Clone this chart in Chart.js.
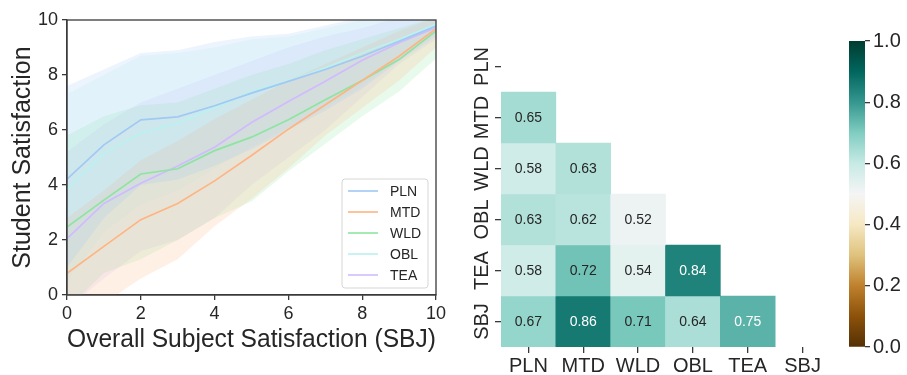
<!DOCTYPE html>
<html>
<head>
<meta charset="utf-8">
<script src="https://cdn.jsdelivr.net/npm/chart.js@4.4.0/dist/chart.umd.min.js"></script>
<style>
body { margin: 0; background: #fff; width: 907px; height: 375px; position: relative; overflow: hidden; }
canvas { position: absolute; top: 0; }
#lines { left: 0; }
#heat { left: 455px; }
#cbar { left: 830px; }
</style>
</head>
<body>
<canvas id="lines" width="455" height="375"></canvas>
<canvas id="heat" width="385" height="375"></canvas>
<canvas id="cbar" width="77" height="375"></canvas>
<script>
// ---- line panel data ----
var xs = [0, 1, 2, 3, 4, 5, 6, 7, 8, 9, 10];
var names = ['PLN', 'MTD', 'WLD', 'OBL', 'TEA'];
var colors = ['#a1c9f4', '#ffb482', '#8de5a1', '#b9f2f0', '#d0bbff'];

var PLN = [4.21, 5.46, 6.37, 6.48, 6.88, 7.34, 7.77, 8.2, 8.68, 9.23, 9.78];
var MTD = [0.79, 1.77, 2.74, 3.33, 4.15, 5.07, 6.03, 6.92, 7.8, 8.68, 9.68];
var WLD = [2.47, 3.45, 4.4, 4.59, 5.25, 5.74, 6.37, 7.1, 7.8, 8.56, 9.6];
var OBL = [3.85, 5.15, 5.88, 6.25, 6.8, 7.4, 7.77, 8.26, 8.8, 9.3, 9.84];
var TEA = [2.05, 3.33, 4.06, 4.69, 5.37, 6.27, 7.04, 7.77, 8.54, 9.17, 9.72];

// confidence bands (upper / lower)
var PLN_hi = [7.6, 8.2, 8.8, 8.9, 9.2, 9.4, 9.5, 9.8, 10.1, 10.2, 10.2];
var PLN_lo = [1.0, 2.8, 4.0, 4.2, 4.7, 5.3, 6.0, 6.7, 7.5, 8.5, 9.4];
var MTD_hi = [2.8, 3.8, 4.9, 5.6, 6.4, 7.1, 7.8, 8.4, 9.0, 9.6, 10.1];
var MTD_lo = [-1.0, -0.3, 0.6, 1.3, 2.5, 3.5, 4.6, 5.8, 6.8, 7.8, 9.0];
var WLD_hi = [5.8, 6.5, 6.9, 7.0, 7.5, 8.0, 8.4, 8.9, 9.3, 9.7, 10.1];
var WLD_lo = [-0.5, 0.8, 1.3, 2.0, 2.8, 3.4, 4.5, 5.5, 6.5, 7.4, 8.6];
var OBL_hi = [7.3, 8.0, 8.7, 8.8, 9.0, 9.3, 9.4, 9.7, 10.0, 10.2, 10.2];
var OBL_lo = [0.5, 2.3, 3.3, 3.8, 4.6, 5.4, 6.1, 6.8, 7.6, 8.6, 9.5];
var TEA_hi = [5.2, 6.2, 7.0, 7.5, 8.0, 8.5, 9.0, 9.4, 9.7, 10.1, 10.2];
var TEA_lo = [-0.5, 0.6, 1.6, 2.0, 2.8, 4.0, 5.0, 6.0, 7.2, 8.4, 9.3];

var x_ticks = [0, 2, 4, 6, 8, 10];

// ---- heatmap data ----
var hm_labels = ['PLN', 'MTD', 'WLD', 'OBL', 'TEA', 'SBJ'];
var corr_MTD = [0.65];
var corr_WLD = [0.58, 0.63];
var corr_OBL = [0.63, 0.62, 0.52];
var corr_TEA = [0.58, 0.72, 0.54, 0.84];
var corr_SBJ = [0.67, 0.86, 0.71, 0.64, 0.75];
var cbar_ticks = [0, 0.2, 0.4, 0.6, 0.8, 1.0];

var corr = [[], corr_MTD, corr_WLD, corr_OBL, corr_TEA, corr_SBJ];
var series = [PLN, MTD, WLD, OBL, TEA];
var highs = [PLN_hi, MTD_hi, WLD_hi, OBL_hi, TEA_hi];
var lows = [PLN_lo, MTD_lo, WLD_lo, OBL_lo, TEA_lo];

var TXT = '#262626';
var AX = '#3a3a3a';
var FONT = "'Liberation Sans', Arial, sans-serif";

// BrBG colormap
var brbg = ['#543005', '#8c510a', '#bf812d', '#dfc27d', '#f6e8c3', '#f5f5f5',
            '#c7eae5', '#80cdc1', '#35978f', '#01665e', '#003c30'];

function hexrgb(h) {
    return [parseInt(h.substr(1, 2), 16), parseInt(h.substr(3, 2), 16), parseInt(h.substr(5, 2), 16)];
}
function cmap(v) {
    var p = Math.max(0, Math.min(1, v)) * 10;
    var i = Math.min(9, Math.floor(p)), t = p - i;
    var a = hexrgb(brbg[i]), b = hexrgb(brbg[i + 1]);
    return [0, 1, 2].map(function (k) { return Math.round(a[k] + (b[k] - a[k]) * t); });
}
function rgbStr(c, al) {
    return al === undefined ? 'rgb(' + c.join(',') + ')' : 'rgba(' + c.join(',') + ',' + al + ')';
}
function lum(c) {
    var l = c.map(function (v) {
        v = v / 255;
        return v <= 0.03928 ? v / 12.92 : Math.pow((v + 0.055) / 1.055, 2.4);
    });
    return 0.2126 * l[0] + 0.7152 * l[1] + 0.0722 * l[2];
}

// ---- line chart ----
var datasets = [];
names.forEach(function (n, i) {
    var rgb = hexrgb(colors[i]);
    datasets.push({
        data: xs.map(function (x, k) { return { x: x, y: highs[i][k] }; }),
        fill: '+1', backgroundColor: rgbStr(rgb, 0.2), borderWidth: 0,
        pointRadius: 0, order: 2
    });
    datasets.push({
        data: xs.map(function (x, k) { return { x: x, y: lows[i][k] }; }),
        fill: false, borderWidth: 0, pointRadius: 0, order: 2
    });
});
names.forEach(function (n, i) {
    datasets.push({
        label: n,
        data: xs.map(function (x, k) { return { x: x, y: series[i][k] }; }),
        borderColor: colors[i], borderWidth: 1.7, pointRadius: 0,
        fill: false, tension: 0, order: 1
    });
});

var framePlugin = {
    id: 'frame',
    afterDatasetsDraw: function (chart) {
        var c = chart.ctx, a = chart.chartArea;
        c.save();
        c.strokeStyle = AX;
        c.lineWidth = 1.3;
        c.strokeRect(a.left, a.top, a.right - a.left, a.bottom - a.top);
        c.restore();
    }
};

var boxLegend = {
    id: 'boxLegend',
    afterDraw: function (chart) {
        var c = chart.ctx, a = chart.chartArea;
        var items = chart.data.datasets.filter(function (d) { return d.label; });
        var w = 86, h = 109;
        var x0 = a.right - 8 - w, y0 = a.bottom - 7 - h;
        c.save();
        c.beginPath();
        c.roundRect(x0, y0, w, h, 3);
        c.fillStyle = 'rgba(255,255,255,0.8)';
        c.fill();
        c.strokeStyle = '#d6d6d6';
        c.lineWidth = 1;
        c.stroke();
        c.font = '14px ' + FONT;
        c.textBaseline = 'middle';
        items.forEach(function (d, i) {
            var y = y0 + 12 + i * 21;
            c.strokeStyle = d.borderColor;
            c.lineWidth = 1.6;
            c.beginPath();
            c.moveTo(x0 + 6, y);
            c.lineTo(x0 + 36, y);
            c.stroke();
            c.fillStyle = TXT;
            c.fillText(d.label, x0 + 48, y + 1);
        });
        c.restore();
    }
};

new Chart(document.getElementById('lines'), {
    type: 'line',
    data: { datasets: datasets },
    options: {
        responsive: false,
        animation: false,
        layout: { padding: { top: 20, right: 19, left: 0, bottom: 0 } },
        plugins: { legend: { display: false }, tooltip: { enabled: false } },
        scales: {
            x: {
                type: 'linear', min: 0, max: 10,
                afterBuildTicks: function (s) { s.ticks = x_ticks.map(function (v) { return { value: v }; }); },
                ticks: { font: { size: 18, family: FONT }, color: TXT, padding: 3, maxRotation: 0 },
                grid: { drawOnChartArea: false, tickLength: 5, color: AX, lineWidth: 1.3 },
                border: { color: AX, width: 1.3 },
                title: { display: true, text: 'Overall Subject Satisfaction (SBJ)', color: TXT,
                         font: { size: 25, family: FONT }, padding: { top: 0, bottom: 20 } },
                afterFit: function (s) { s.height = 80; }
            },
            y: {
                min: 0, max: 10,
                ticks: { stepSize: 2, font: { size: 18, family: FONT }, color: TXT, padding: 4 },
                grid: { drawOnChartArea: false, tickLength: 5, color: AX, lineWidth: 1.3 },
                border: { color: AX, width: 1.3 },
                title: { display: true, text: 'Student Satisfaction', color: TXT,
                         font: { size: 25, family: FONT }, padding: { top: 8, bottom: 0 } },
                afterFit: function (s) { s.width = 67; }
            }
        }
    },
    plugins: [framePlugin, boxLegend]
});

// ---- heatmap ----
var hmSets = [];
for (var r = 1; r < hm_labels.length; r++) {
    (function (r) {
        hmSets.push({
            data: hm_labels.map(function (c, j) { return j < r ? [r, r + 1] : null; }),
            backgroundColor: hm_labels.map(function (c, j) { return j < r ? rgbStr(cmap(corr[r][j])) : 'rgba(0,0,0,0)'; }),
            borderWidth: 0, barPercentage: 1, categoryPercentage: 1, grouped: false
        });
    })(r);
}

var annotate = {
    id: 'annotate',
    afterDatasetsDraw: function (chart) {
        var c = chart.ctx, xs_ = chart.scales.x, ys_ = chart.scales.y;
        c.save();
        c.font = '14px ' + FONT;
        c.textAlign = 'center';
        c.textBaseline = 'middle';
        for (var r = 1; r < corr.length; r++) {
            corr[r].forEach(function (v, j) {
                c.fillStyle = lum(cmap(v)) > 0.408 ? TXT : '#ffffff';
                c.fillText(v.toFixed(2), xs_.getPixelForValue(j), ys_.getPixelForValue(r + 0.5) + 1);
            });
        }
        c.restore();
    }
};

new Chart(document.getElementById('heat'), {
    type: 'bar',
    data: { labels: hm_labels, datasets: hmSets },
    options: {
        responsive: false,
        animation: false,
        layout: { padding: { top: 41, right: 10, left: 0, bottom: 0 } },
        plugins: { legend: { display: false }, tooltip: { enabled: false } },
        scales: {
            x: {
                type: 'category', offset: true,
                ticks: { font: { size: 20, family: FONT }, color: TXT, padding: 1, maxRotation: 0 },
                grid: { offset: false, drawOnChartArea: false, tickLength: 6, color: AX, lineWidth: 1.3 },
                border: { display: false },
                afterFit: function (s) { s.height = 28; }
            },
            y: {
                type: 'linear', min: 0, max: 6, reverse: true,
                afterBuildTicks: function (s) { s.ticks = hm_labels.map(function (l, i) { return { value: i + 0.5 }; }); },
                ticks: {
                    callback: function (v) { return hm_labels[Math.floor(v)]; },
                    font: { size: 20, family: FONT }, color: TXT,
                    minRotation: 90, maxRotation: 90, crossAlign: 'center', padding: -10
                },
                grid: { drawOnChartArea: false, tickLength: 6, color: AX, lineWidth: 1.3 },
                border: { display: false },
                afterFit: function (s) { s.width = 46; }
            }
        }
    },
    plugins: [annotate]
});

// ---- colorbar ----
new Chart(document.getElementById('cbar'), {
    type: 'bar',
    data: {
        labels: ['cbar'],
        datasets: [{
            data: [[0, 1]],
            backgroundColor: function (ctx) {
                var a = ctx.chart.chartArea;
                if (!a) return null;
                var g = ctx.chart.ctx.createLinearGradient(0, a.bottom, 0, a.top);
                brbg.forEach(function (col, i) { g.addColorStop(i / 10, col); });
                return g;
            },
            borderWidth: 0, barPercentage: 1, categoryPercentage: 1
        }]
    },
    options: {
        responsive: false,
        animation: false,
        layout: { padding: { top: 41, left: 19, right: 0, bottom: 28 } },
        plugins: { legend: { display: false }, tooltip: { enabled: false } },
        scales: {
            x: { display: false },
            y: {
                position: 'right', min: 0, max: 1,
                afterBuildTicks: function (s) { s.ticks = cbar_ticks.map(function (v) { return { value: v }; }); },
                ticks: { callback: function (v) { return v.toFixed(1); }, font: { size: 20, family: FONT }, color: TXT, padding: 3 },
                grid: { drawOnChartArea: false, tickLength: 5, color: AX, lineWidth: 1.3 },
                border: { display: false },
                afterFit: function (s) { s.width = 42; }
            }
        }
    }
});
</script>
</body>
</html>
